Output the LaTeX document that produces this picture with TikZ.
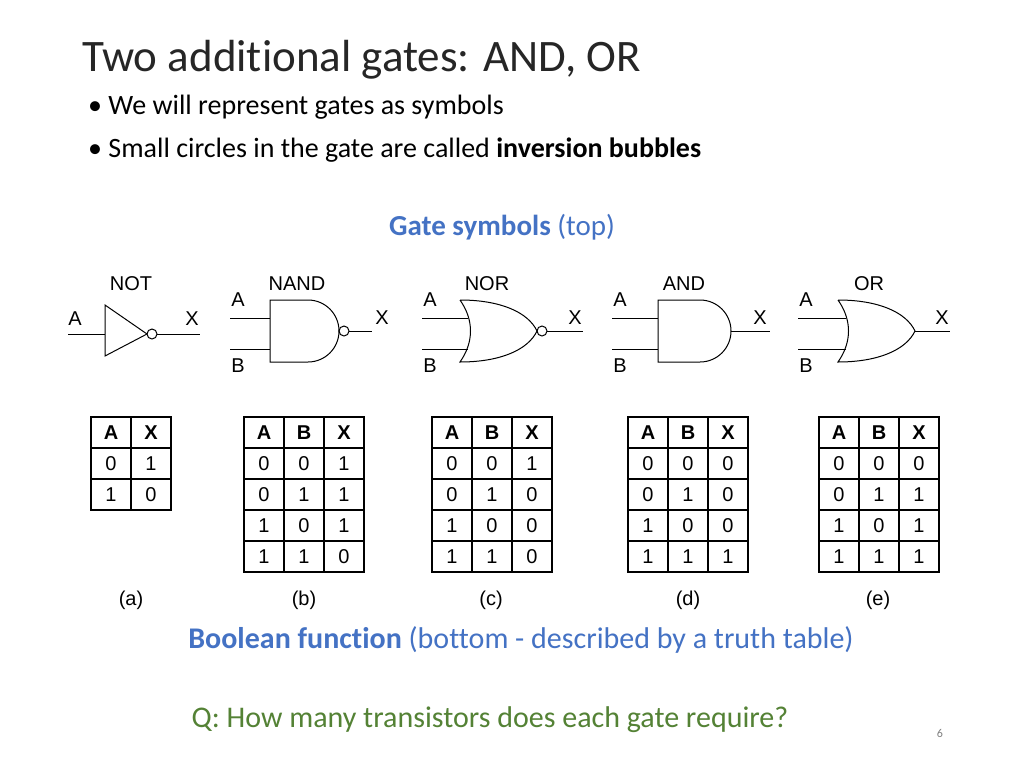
\documentclass[tikz,border=0pt]{standalone}
\usepackage{fontspec}
\setmainfont[Ligatures=NoCommon]{Carlito}
\newfontfamily\arialf{Liberation Sans}
\definecolor{hblue}{RGB}{68,114,196}
\definecolor{hgreen}{RGB}{84,130,53}
\begin{document}
\begin{tikzpicture}[x=1pt,y=-1pt,
  gl/.style={font=\arialf\fontsize{20}{22}\selectfont},
  gate/.style={line width=1pt},
  cell/.style={font=\arialf\fontsize{20}{22}\selectfont}]
\useasboundingbox[fill=white] (0,0) rectangle (1024,768);
\node[anchor=west,font=\fontsize{45}{50}\selectfont,text=black!85,inner sep=0pt] (title) at (82,60) {Two additional gates: AND, OR};
\node[anchor=west,font=\fontsize{28}{32}\selectfont,inner sep=0pt] (b1) at (88,107) {\textbullet\ We will represent gates as symbols};
\node[anchor=west,font=\fontsize{28}{32}\selectfont,inner sep=0pt] (b2) at (88,150) {\textbullet\ Small circles in the gate are called \textbf{inversion bubbles}};
\node[font=\fontsize{29}{33}\selectfont,text=hblue] (gs) at (502,227) {\textbf{Gate symbols} (top)};
\node[font=\fontsize{30}{34}\selectfont,text=hblue] (bf) at (521,640) {\textbf{Boolean function} (bottom - described by a truth table)};
\node[font=\fontsize{30}{34}\selectfont,text=hgreen] (q) at (490,720) {Q: How many transistors does each gate require?};
\node[font=\fontsize{12}{14}\selectfont,text=gray] (pn) at (940,733) {6};
% NOT
\node[gl] at (131,284) {NOT};
\node[gl] at (75,319) {A}; \node[gl] at (192,319) {X};
\draw[gate] (68,334)--(105,334);
\draw[gate] (105,305)--(147,334)--(105,356)--cycle;
\draw[gate] (152,334) circle (5);
\draw[gate] (157,334)--(200,334);
% NAND
\node[gl] at (297,284) {NAND};
\node[gl] at (238,300) {A}; \node[gl] at (238,366) {B}; \node[gl] at (382,318) {X};
\draw[gate] (230,318)--(270,318) (230,349)--(270,349);
\draw[gate] (270,300)--(308,300) arc[start angle=-90,end angle=90,radius=31] --(270,362)--cycle;
\draw[gate] (344,331) circle (5);
\draw[gate] (349,331)--(372,331);
% NOR
\node[gl] at (487,284) {NOR};
\node[gl] at (430,300) {A}; \node[gl] at (430,366) {B}; \node[gl] at (575,318) {X};
\draw[gate] (422,318)--(468,318) (422,349)--(468,349);
\draw[gate] (460,300) .. controls (500,300) and (528,312) .. (537,331) .. controls (528,350) and (500,362) .. (460,362) .. controls (474,342) and (474,320) .. (460,300);
\draw[gate] (542,331) circle (5);
\draw[gate] (547,331)--(583,331);
% AND
\node[gl] at (684,284) {AND};
\node[gl] at (620,300) {A}; \node[gl] at (620,366) {B}; \node[gl] at (760,318) {X};
\draw[gate] (612,318)--(658,318) (612,349)--(658,349);
\draw[gate] (658,300)--(700,300) arc[start angle=-90,end angle=90,radius=31] --(658,362)--cycle;
\draw[gate] (731,331)--(770,331);
% OR
\node[gl] at (869,284) {OR};
\node[gl] at (806,300) {A}; \node[gl] at (806,366) {B}; \node[gl] at (942,318) {X};
\draw[gate] (798,318)--(846,318) (798,349)--(846,349);
\draw[gate] (838,300) .. controls (878,300) and (906,312) .. (915,331) .. controls (906,350) and (878,362) .. (838,362) .. controls (852,342) and (852,320) .. (838,300);
\draw[gate] (915,331)--(950,331);
% tables
\newcommand{\ttab}[3]{%
  \foreach \r [count=\i from 0] in {#3}{
    \foreach \v [count=\j from 0] in \r {
      \node[cell,draw,line width=1.2pt,minimum width=40pt,minimum height=31pt,inner sep=0pt] at ({#1+20+40*\j},{432.5+31*\i}) {\ifnum\i=0 \textbf{\v}\else\v\fi};
    }
  }
}
\ttab{91}{2}{{A,X},{0,1},{1,0}}
\ttab{244}{3}{{A,B,X},{0,0,1},{0,1,1},{1,0,1},{1,1,0}}
\ttab{432}{3}{{A,B,X},{0,0,1},{0,1,0},{1,0,0},{1,1,0}}
\ttab{628}{3}{{A,B,X},{0,0,0},{0,1,0},{1,0,0},{1,1,1}}
\ttab{819}{3}{{A,B,X},{0,0,0},{0,1,1},{1,0,1},{1,1,1}}
\node[gl] at (131,600) {(a)};
\node[gl] at (304,600) {(b)};
\node[gl] at (491,600) {(c)};
\node[gl] at (688,600) {(d)};
\node[gl] at (878,600) {(e)};
\end{tikzpicture}
\end{document}
